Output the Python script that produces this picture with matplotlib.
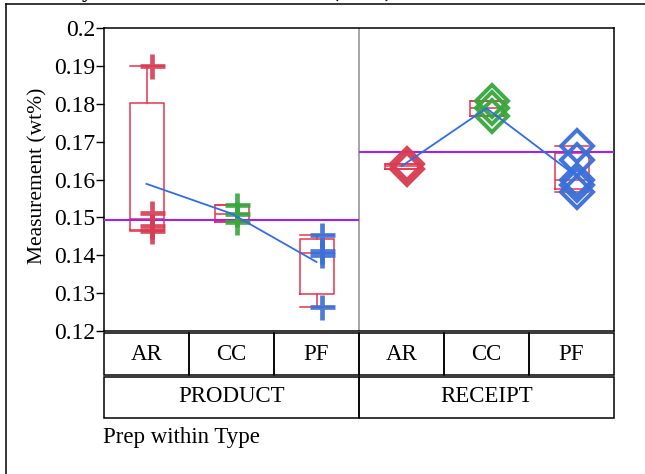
import numpy as np
import matplotlib.pyplot as plt
from matplotlib.lines import Line2D
from matplotlib.patches import Rectangle

plt.rcParams['font.family'] = ['Liberation Serif', 'DejaVu Serif']

# data (wt%)
types = ['PRODUCT', 'RECEIPT']
preps = ['AR', 'CC', 'PF']
ar_product = [0.1464, 0.1478, 0.1512, 0.1900]
cc_product = [0.1487, 0.1510, 0.1533]
pf_product = [0.1264, 0.1400, 0.1412, 0.1453]
ar_receipt = [0.1629, 0.1641]
cc_receipt = [0.1768, 0.1790, 0.1806]
pf_receipt = [0.1567, 0.1585, 0.1600, 0.1651, 0.1689]
yticks = [0.12, 0.13, 0.14, 0.15, 0.16, 0.17, 0.18, 0.19, 0.2]
ytick_labels = ['0.12', '0.13', '0.14', '0.15', '0.16', '0.17', '0.18', '0.19', '0.2']

cells = [ar_product, cc_product, pf_product, ar_receipt, cc_receipt, pf_receipt]
prep_colors = {'AR': '#d63c52', 'CC': '#36a83c', 'PF': '#3a6fd8'}
type_markers = {'PRODUCT': '+', 'RECEIPT': 'D'}
box_color = '#e8344c'
mean_color = '#2f6cf0'
group_color = '#a41ff0'

W, H = 645, 474
fig = plt.figure(figsize=(W / 100, H / 100), dpi=100)

ax = fig.add_axes([104 / W, 1 - 331 / H, 510 / W, 303 / H])
ax.set_xlim(-0.5, 5.5)
ax.set_ylim(0.12, 0.2)

# box plots (quartiles like JMP: (n+1)p rule)
stats = []
for i, v in enumerate(cells):
    q1, med, q3 = np.percentile(v, [25, 50, 75], method='weibull')
    stats.append(dict(med=med, q1=q1, q3=q3, whislo=min(v), whishi=max(v), fliers=[]))
lw = 1.1
ax.bxp(stats, positions=range(6), widths=0.4, capwidths=0.4, showfliers=False,
       boxprops=dict(color=box_color, lw=lw), whiskerprops=dict(color=box_color, lw=lw),
       capprops=dict(color=box_color, lw=lw), medianprops=dict(color=box_color, lw=lw),
       manage_ticks=False)

# raw points
k = 0
for t in types:
    for p in preps:
        v = cells[k]
        if type_markers[t] == '+':
            ax.plot([k + 0.07] * len(v), v, ls='none', marker='+', ms=18, mew=3.4,
                    color=prep_colors[p], alpha=0.9, zorder=4)
        else:
            ax.plot([k + 0.07] * len(v), v, ls='none', marker='D', ms=16, mew=2.9,
                    mfc='none', mec=prep_colors[p], alpha=0.95, zorder=4)
        k += 1

# cell means and group means
for g in range(2):
    idx = [3 * g, 3 * g + 1, 3 * g + 2]
    ax.plot(idx, [np.mean(cells[i]) for i in idx], color=mean_color, lw=1.3, zorder=5)
    allv = np.concatenate([cells[i] for i in idx])
    ax.hlines(allv.mean(), 3 * g - 0.5, 3 * g + 2.5, color=group_color, lw=1.5, zorder=3)

ax.axvline(2.5, color='#8c8c8c', lw=1.1)

ax.set_yticks(yticks)
ax.set_yticklabels(ytick_labels)
ax.set_xticks([])
ax.tick_params(axis='y', direction='out', length=5.5, width=1, labelsize=17, pad=1)
for s in ax.spines.values():
    s.set_linewidth(1.1)

# category table under the plot
tb = fig.add_axes([104 / W, 1 - 418 / H, 510 / W, 85 / H])
tb.set_xlim(-0.5, 5.5)
tb.set_ylim(0, 85)
tb.axis('off')
for i in range(6):
    tb.add_patch(Rectangle((i - 0.5, 43), 1, 42, fill=False, ec='black', lw=1.1, clip_on=False))
    tb.text(i, 64, preps[i % 3], ha='center', va='center', fontsize=16.5)
for g in range(2):
    tb.add_patch(Rectangle((3 * g - 0.5, 0), 3, 41, fill=False, ec='black', lw=1.1, clip_on=False))
    tb.text(3 * g + 1, 21, types[g], ha='center', va='center', fontsize=16.5)

fig.text(38 / W, 1 - 176 / H, 'Measurement (wt%)', rotation=90, ha='center', va='center', fontsize=15.5)
fig.text(103 / W, 1 - 438 / H, 'Prep within Type', ha='left', va='center', fontsize=16.5)

# outer frame and clipped title
fig.add_artist(Line2D([6 / W, 6 / W], [0, 1 - 4 / H], transform=fig.transFigure, color='black', lw=1.1))
fig.add_artist(Line2D([6 / W, 1], [1 - 4 / H, 1 - 4 / H], transform=fig.transFigure, color='black', lw=1.1))
fig.text(392 / W, 1 + 3 / H, 'Variability Chart for Measurement (wt%)', ha='right', va='baseline',
         fontsize=16, fontweight='bold')

fig.savefig('out.png', dpi=100)
